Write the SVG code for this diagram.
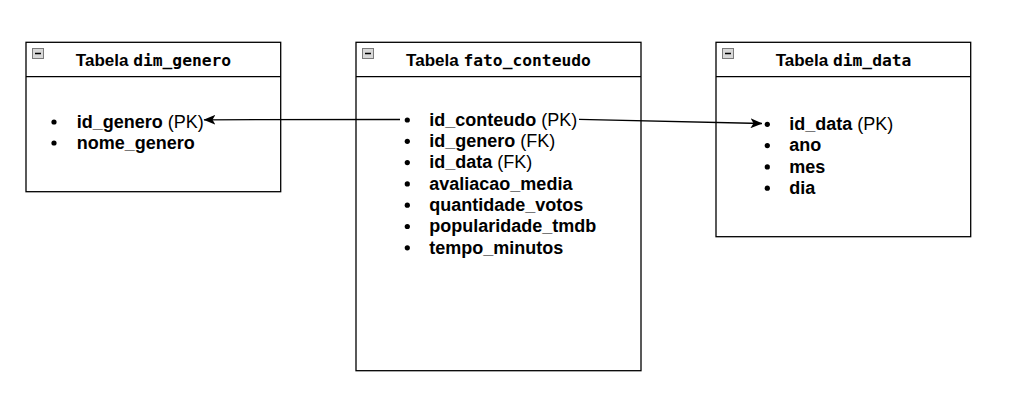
<svg xmlns="http://www.w3.org/2000/svg" width="1016" height="407" viewBox="0 0 1016 407">
<style>
.box{fill:#fff;stroke:#000;stroke-width:1.3}
.sep{stroke:#000;stroke-width:1.3}
.hd{font-family:"Liberation Sans",Arial,sans-serif;font-weight:bold;font-size:17px;fill:#000}
.mono{font-family:"DejaVu Sans Mono",monospace;font-weight:bold;font-size:16.3px}
.it{font-family:"Liberation Sans",Arial,sans-serif;font-weight:bold;font-size:18px;fill:#000}
.rg{font-weight:normal}
.bul{fill:#000}
.ico{fill:#d8d8d8;stroke:#7a7a7a;stroke-width:1}
.icl{stroke:#000;stroke-width:1.5}
.conn{fill:none;stroke:#000;stroke-width:1.3}
</style>
<defs>
<marker id="arr" viewBox="0 0 12 10" refX="11.5" refY="5" markerWidth="12" markerHeight="10" markerUnits="userSpaceOnUse" orient="auto">
<path d="M0,0 L12,5 L0,10 L3,5 Z" fill="#000"/>
</marker>
</defs>
<rect width="1016" height="407" fill="#fff"/>
<g id="dim_genero">
<rect class="box" x="26" y="42.3" width="254.7" height="149.4"/>
<line class="sep" x1="26" y1="76.7" x2="280.7" y2="76.7"/>
<rect class="ico" x="32.5" y="48.5" width="11" height="10"/>
<line class="icl" x1="35" y1="53.5" x2="41" y2="53.5"/>
<text class="hd" x="153.5" y="66.3" text-anchor="middle">Tabela <tspan class="mono">dim_genero</tspan></text>
<circle class="bul" cx="54" cy="122" r="2.6"/>
<circle class="bul" cx="54" cy="143" r="2.6"/>
<text class="it" x="76.7" y="127.7">id_genero<tspan class="rg"> (PK)</tspan></text>
<text class="it" x="76.7" y="148.7">nome_genero</text>
</g>
<g id="fato_conteudo">
<rect class="box" x="356" y="42.3" width="285" height="328.4"/>
<line class="sep" x1="356" y1="76.7" x2="641" y2="76.7"/>
<rect class="ico" x="362.5" y="48.5" width="11" height="10"/>
<line class="icl" x1="365" y1="53.5" x2="371" y2="53.5"/>
<text class="hd" x="498.5" y="66.3" text-anchor="middle">Tabela <tspan class="mono">fato_conteudo</tspan></text>
<circle class="bul" cx="407.3" cy="120" r="2.6"/>
<circle class="bul" cx="407.3" cy="141.3" r="2.6"/>
<circle class="bul" cx="407.3" cy="162.6" r="2.6"/>
<circle class="bul" cx="407.3" cy="183.9" r="2.6"/>
<circle class="bul" cx="407.3" cy="205.2" r="2.6"/>
<circle class="bul" cx="407.3" cy="226.5" r="2.6"/>
<circle class="bul" cx="407.3" cy="247.8" r="2.6"/>
<text class="it" x="429.3" y="125.7">id_conteudo<tspan class="rg"> (PK)</tspan></text>
<text class="it" x="429.3" y="147">id_genero<tspan class="rg"> (FK)</tspan></text>
<text class="it" x="429.3" y="168.3">id_data<tspan class="rg"> (FK)</tspan></text>
<text class="it" x="429.3" y="189.6">avaliacao_media</text>
<text class="it" x="429.3" y="210.9">quantidade_votos</text>
<text class="it" x="429.3" y="232.2">popularidade_tmdb</text>
<text class="it" x="429.3" y="253.5">tempo_minutos</text>
</g>
<g id="dim_data">
<rect class="box" x="716" y="42.3" width="254.7" height="194.4"/>
<line class="sep" x1="716" y1="76.7" x2="970.7" y2="76.7"/>
<rect class="ico" x="722.5" y="48.5" width="11" height="10"/>
<line class="icl" x1="725" y1="53.5" x2="731" y2="53.5"/>
<text class="hd" x="843.5" y="66.3" text-anchor="middle">Tabela <tspan class="mono">dim_data</tspan></text>
<circle class="bul" cx="767.3" cy="124.3" r="2.6"/>
<circle class="bul" cx="767.3" cy="145.6" r="2.6"/>
<circle class="bul" cx="767.3" cy="166.9" r="2.6"/>
<circle class="bul" cx="767.3" cy="188.2" r="2.6"/>
<text class="it" x="789.3" y="130">id_data<tspan class="rg"> (PK)</tspan></text>
<text class="it" x="789.3" y="151.3">ano</text>
<text class="it" x="789.3" y="172.6">mes</text>
<text class="it" x="789.3" y="193.9">dia</text>
</g>
<g id="connectors">
<path class="conn" d="M400,119.5 L204,119.8" marker-end="url(#arr)"/>
<path class="conn" d="M579,119.3 L762,123.5" marker-end="url(#arr)"/>
</g>
</svg>
